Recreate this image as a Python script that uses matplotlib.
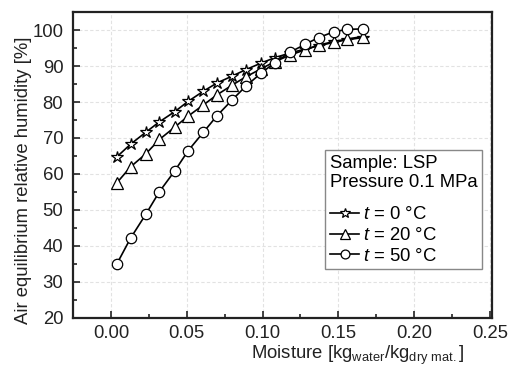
import matplotlib.pyplot as plt
from matplotlib.ticker import MultipleLocator

plt.rcParams['font.family'] = ['Liberation Sans', 'DejaVu Sans']
plt.rcParams['mathtext.fontset'] = 'custom'
plt.rcParams['mathtext.rm'] = 'Liberation Sans'
plt.rcParams['mathtext.it'] = 'Liberation Sans:italic'

# moisture [kg water / kg dry mat.]
moisture = [0.004, 0.013, 0.023, 0.032, 0.042, 0.051, 0.061, 0.070, 0.080,
            0.089, 0.099, 0.108, 0.118, 0.128, 0.137, 0.147, 0.156, 0.166]
rh_0c = [64.8, 68.3, 71.6, 74.5, 77.3, 80.2, 83.0, 85.3, 87.2,
         89.0, 90.8, 92.3, 93.6, 94.7, 95.6, 96.6, 97.3, 97.9]
rh_20c = [57.6, 62.0, 65.6, 69.6, 73.0, 76.1, 79.2, 82.0, 84.7,
          87.0, 89.2, 91.2, 93.0, 94.5, 95.8, 96.8, 97.5, 98.2]
rh_50c = [35.1, 42.2, 48.8, 55.1, 60.8, 66.5, 71.6, 76.2, 80.6,
          84.4, 88.0, 90.9, 93.8, 96.0, 97.9, 99.5, 100.2, 100.3]

series = [(rh_0c, '*', 9, r'$t$ = 0 °C'),
          (rh_20c, '^', 8, r'$t$ = 20 °C'),
          (rh_50c, 'o', 7.5, r'$t$ = 50 °C')]

FS = 13.3
INK = '#222222'

fig = plt.figure(figsize=(5.11, 3.65), dpi=100)
ax = fig.add_axes([0.143, 0.129, 0.820, 0.838])

for rh, m, ms, lab in series:
    ax.plot(moisture, rh, color='black', lw=1.2, marker=m, ms=ms,
            mfc='white', mec='black', mew=0.9, label=lab)

ax.set_xlim(-0.025, 0.2515)
ax.set_ylim(20, 105)
ax.xaxis.set_major_locator(MultipleLocator(0.05))
ax.xaxis.set_minor_locator(MultipleLocator(0.025))
ax.yaxis.set_major_locator(MultipleLocator(10))
ax.yaxis.set_minor_locator(MultipleLocator(5))
ax.xaxis.set_major_formatter(lambda v, p: f'{v:.2f}')
ax.grid(True, which='major', color='#e2e2e2', ls=(0, (3, 2)), lw=0.8)
ax.tick_params(which='both', direction='in', labelsize=FS, width=1.2, colors=INK)
ax.tick_params(which='major', length=5, pad=7)
ax.tick_params(axis='x', which='major', pad=5)
ax.tick_params(which='minor', length=3)
for s in ax.spines.values():
    s.set_linewidth(1.6)
    s.set_color(INK)

ax.set_xlabel(r'Moisture [kg$_{\mathrm{water}}$/kg$_{\mathrm{dry\ mat.}}$]', fontsize=FS, color=INK)
ax.xaxis.set_label_coords(0.678, -0.083)
ax.set_ylabel('Air equilibrium relative humidity [%]', fontsize=FS, color=INK)
ax.yaxis.set_label_coords(-0.098, 0.45)

leg = ax.legend(title='Sample: LSP\nPressure 0.1 MPa', loc='upper right',
                bbox_to_anchor=(0.976, 0.549), borderaxespad=0, fontsize=FS,
                title_fontsize=FS, alignment='left', fancybox=False,
                edgecolor='#888888', framealpha=1, handlelength=1.6,
                handletextpad=0.2, labelspacing=0.2, borderpad=0.25,
                markerscale=0.85)
leg.get_frame().set_linewidth(1.0)
leg._legend_box.sep = 11

fig.savefig('out.png', dpi=100)
